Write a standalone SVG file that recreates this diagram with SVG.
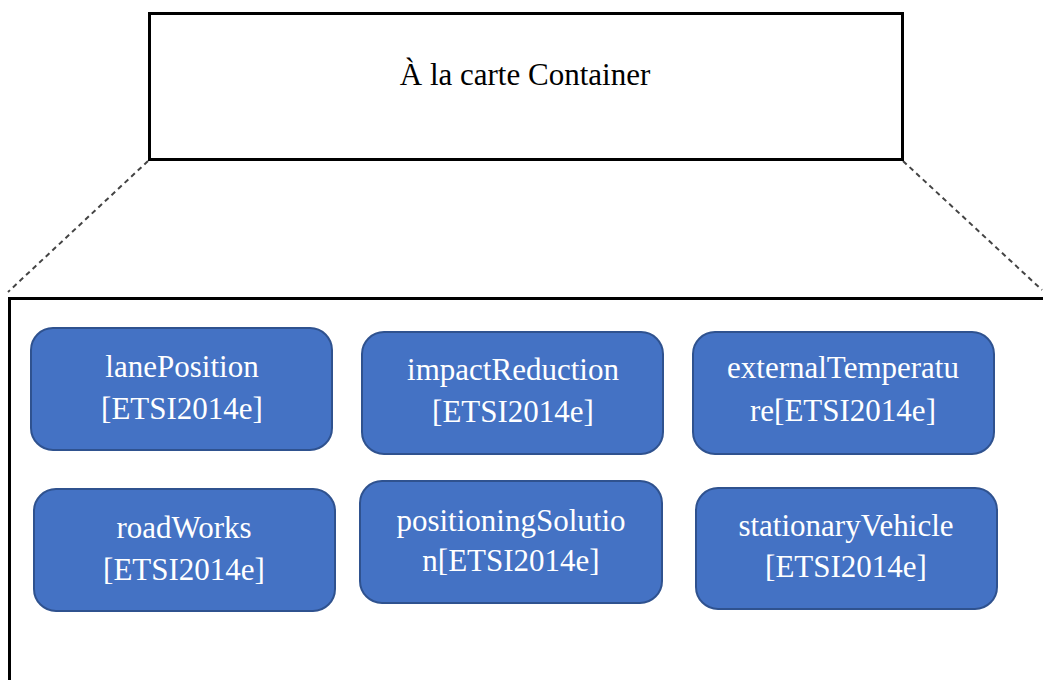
<svg xmlns="http://www.w3.org/2000/svg" width="1043" height="680" viewBox="0 0 1043 680">
  <style>
    .frame { fill: #ffffff; stroke: #000000; stroke-width: 3; }
    .node rect { fill: #4472C4; stroke: #2F528F; stroke-width: 2; }
    .node text { fill: #ffffff; font-family: "Liberation Serif", "Times New Roman", serif; font-size: 31px; text-anchor: middle; }
    .title { fill: #000000; font-family: "Liberation Serif", "Times New Roman", serif; font-size: 31px; text-anchor: middle; }
    .zoomline { stroke: #444444; stroke-width: 2; stroke-dasharray: 5 4; fill: none; }
  </style>
  <rect width="1043" height="680" fill="#ffffff"/>

  <!-- detail frame, continues past the page edge -->
  <rect id="detail-frame" class="frame" x="9.5" y="298.5" width="1100" height="500"/>

  <!-- dashed lines fanning out from the container to its detail frame -->
  <g id="connectors">
    <line class="zoomline" x1="148" y1="161" x2="8" y2="292"/>
    <line class="zoomline" x1="903" y1="161" x2="1042" y2="290"/>
  </g>

  <g id="container">
    <rect class="frame" x="149.5" y="13.5" width="753" height="146"/>
    <text class="title" x="525" y="85">À la carte Container</text>
  </g>

  <g id="lanePosition" class="node">
    <rect x="31" y="328" width="301" height="122" rx="22"/>
    <text x="182" y="377">lanePosition</text>
    <text x="182" y="419">[ETSI2014e]</text>
  </g>
  <g id="impactReduction" class="node">
    <rect x="362" y="332" width="301" height="122" rx="22"/>
    <text x="513" y="380">impactReduction</text>
    <text x="513" y="422">[ETSI2014e]</text>
  </g>
  <g id="externalTemperature" class="node">
    <rect x="693" y="332" width="301" height="122" rx="22"/>
    <text x="843" y="378">externalTemperatu</text>
    <text x="843" y="421">re[ETSI2014e]</text>
  </g>
  <g id="roadWorks" class="node">
    <rect x="34" y="489" width="301" height="122" rx="22"/>
    <text x="184" y="538">roadWorks</text>
    <text x="184" y="580">[ETSI2014e]</text>
  </g>
  <g id="positioningSolution" class="node">
    <rect x="360" y="481" width="302" height="122" rx="22"/>
    <text x="511" y="531">positioningSolutio</text>
    <text x="511" y="571">n[ETSI2014e]</text>
  </g>
  <g id="stationaryVehicle" class="node">
    <rect x="696" y="488" width="301" height="121" rx="22"/>
    <text x="846" y="536">stationaryVehicle</text>
    <text x="846" y="577">[ETSI2014e]</text>
  </g>
</svg>
